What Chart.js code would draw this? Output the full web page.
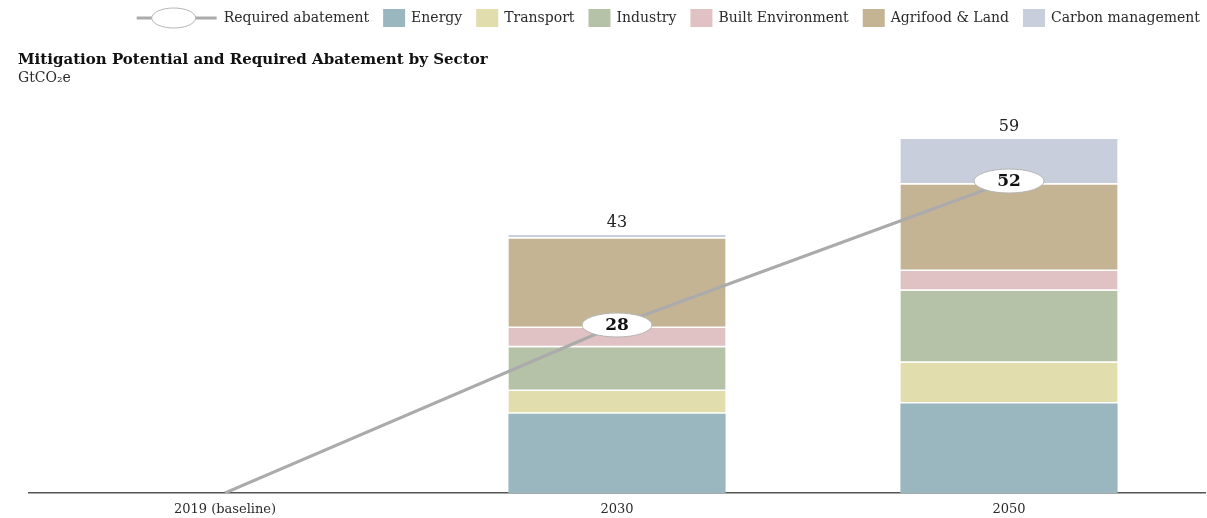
<!DOCTYPE html>
<html>
<head>
<meta charset="utf-8">
<script src="https://cdn.jsdelivr.net/npm/chart.js@4.4.0/dist/chart.umd.min.js"></script>
<style>
  html, body { margin: 0; padding: 0; background: #fff; }
  #wrap { position: relative; width: 1207px; height: 518px; }
</style>
</head>
<body>
<div id="wrap"><canvas id="abatementChart" width="1207" height="518"></canvas></div>
<script>
// GtCO2e by sector, stacked per year
const years = ['2019 (baseline)', '2030', '2050'];
const energy = [null, 13.2, 14.9];
const transport = [null, 3.8, 6.8];
const industry = [null, 7.3, 12.0];
const builtEnvironment = [null, 3.2, 3.3];
const agrifoodLand = [null, 14.9, 14.4];
const carbonManagement = [null, 0.6, 7.6];
const requiredAbatement = [0, 28, 52];

const SERIF = '"DejaVu Serif", Georgia, serif';
const TEXT = '#2b2b2b';
const LINE_GREY = '#ababab';

const sectors = [
  { label: 'Energy', data: energy, color: '#9ab7bf' },
  { label: 'Transport', data: transport, color: '#e1ddac' },
  { label: 'Industry', data: industry, color: '#b5c2a8' },
  { label: 'Built Environment', data: builtEnvironment, color: '#e0c1c4' },
  { label: 'Agrifood & Land', data: agrifoodLand, color: '#c5b494' },
  { label: 'Carbon management', data: carbonManagement, color: '#c8cedb' }
];

const barSets = sectors.map((s, i) => ({
  type: 'bar',
  label: s.label,
  data: s.data,
  backgroundColor: s.color,
  borderColor: '#fff',
  borderWidth: i === 0 ? 0 : { bottom: 1.5, top: 0, left: 0, right: 0 },
  borderSkipped: false,
  stack: 'sectors',
  order: 1,
  barPercentage: 0.554,
  categoryPercentage: 1.0
}));

const lineSet = {
  type: 'line',
  label: 'Required abatement',
  data: requiredAbatement,
  borderColor: LINE_GREY,
  borderWidth: 3,
  pointRadius: 0,
  tension: 0,
  stack: 'abatement',
  order: 0
};

// title, legend, totals and the value bubbles on the line
const annotate = {
  id: 'annotate',
  afterDraw(chart) {
    const ctx = chart.ctx;
    const x = chart.scales.x, y = chart.scales.y;
    ctx.save();

    // title block
    ctx.fillStyle = '#111';
    ctx.textAlign = 'left';
    ctx.textBaseline = 'alphabetic';
    ctx.font = 'bold 15px ' + SERIF;
    ctx.fillText('Mitigation Potential and Required Abatement by Sector', 18, 64);
    ctx.font = '14px ' + SERIF;
    ctx.fillStyle = TEXT;
    ctx.fillText('GtCO\u2082e', 18, 82);

    // legend, right aligned
    ctx.font = '14px ' + SERIF;
    const items = [{ line: true, label: lineSet.label }]
      .concat(sectors.map(s => ({ line: false, label: s.label, color: s.color })));
    const symW = it => it.line ? 80 : 22;
    const symGap = it => it.line ? 7 : 6;
    const gap = 14;
    let total = 0;
    items.forEach((it, i) => {
      it.w = symW(it) + symGap(it) + ctx.measureText(it.label).width;
      total += it.w + (i ? gap : 0);
    });
    let lx = 1200 - total;
    const ly = 18;
    items.forEach(it => {
      if (it.line) {
        ctx.strokeStyle = LINE_GREY;
        ctx.lineWidth = 3;
        ctx.beginPath();
        ctx.moveTo(lx, ly);
        ctx.lineTo(lx + 80, ly);
        ctx.stroke();
        ctx.beginPath();
        ctx.ellipse(lx + 37, ly, 22, 10, 0, 0, Math.PI * 2);
        ctx.fillStyle = '#fff';
        ctx.fill();
        ctx.lineWidth = 1;
        ctx.strokeStyle = '#b5b5b5';
        ctx.stroke();
      } else {
        ctx.fillStyle = it.color;
        ctx.fillRect(lx, ly - 9, 22, 18);
      }
      ctx.fillStyle = TEXT;
      ctx.textBaseline = 'middle';
      ctx.fillText(it.label, lx + symW(it) + symGap(it), ly);
      lx += it.w + gap;
    });

    // stack totals
    ctx.font = '16px ' + SERIF;
    ctx.textAlign = 'center';
    ctx.textBaseline = 'alphabetic';
    ctx.fillStyle = '#222';
    years.forEach((_, i) => {
      const sum = sectors.reduce((a, s) => a + (s.data[i] || 0), 0);
      if (!sum) return;
      ctx.fillText(String(Math.round(sum)), x.getPixelForValue(i), y.getPixelForValue(sum) - 8);
    });

    // bubbles on the abatement line
    const meta = chart.getDatasetMeta(chart.data.datasets.indexOf(lineSet));
    meta.data.forEach((pt, i) => {
      const v = requiredAbatement[i];
      if (!v) return;
      ctx.beginPath();
      ctx.ellipse(pt.x, pt.y, 35, 12, 0, 0, Math.PI * 2);
      ctx.fillStyle = '#fff';
      ctx.fill();
      ctx.lineWidth = 1;
      ctx.strokeStyle = '#b5b5b5';
      ctx.stroke();
      ctx.fillStyle = '#111';
      ctx.font = 'bold 17px ' + SERIF;
      ctx.textBaseline = 'middle';
      ctx.fillText(String(v), pt.x, pt.y + 1);
    });
    ctx.restore();
  }
};

new Chart(document.getElementById('abatementChart'), {
  data: {
    labels: years,
    datasets: [lineSet, ...barSets]
  },
  options: {
    responsive: false,
    animation: false,
    layout: { padding: { left: 29, right: 2, top: 133, bottom: 0 } },
    plugins: {
      legend: { display: false },
      tooltip: { enabled: false }
    },
    scales: {
      x: {
        stacked: true,
        grid: { display: false },
        border: { display: true, color: '#555', width: 1.5 },
        ticks: { color: TEXT, font: { family: SERIF, size: 13 }, padding: 1 },
        afterFit(scale) { scale.height = 25; }
      },
      y: {
        display: false,
        stacked: true,
        min: 0,
        max: 60
      }
    }
  },
  plugins: [annotate]
});
</script>
</body>
</html>
